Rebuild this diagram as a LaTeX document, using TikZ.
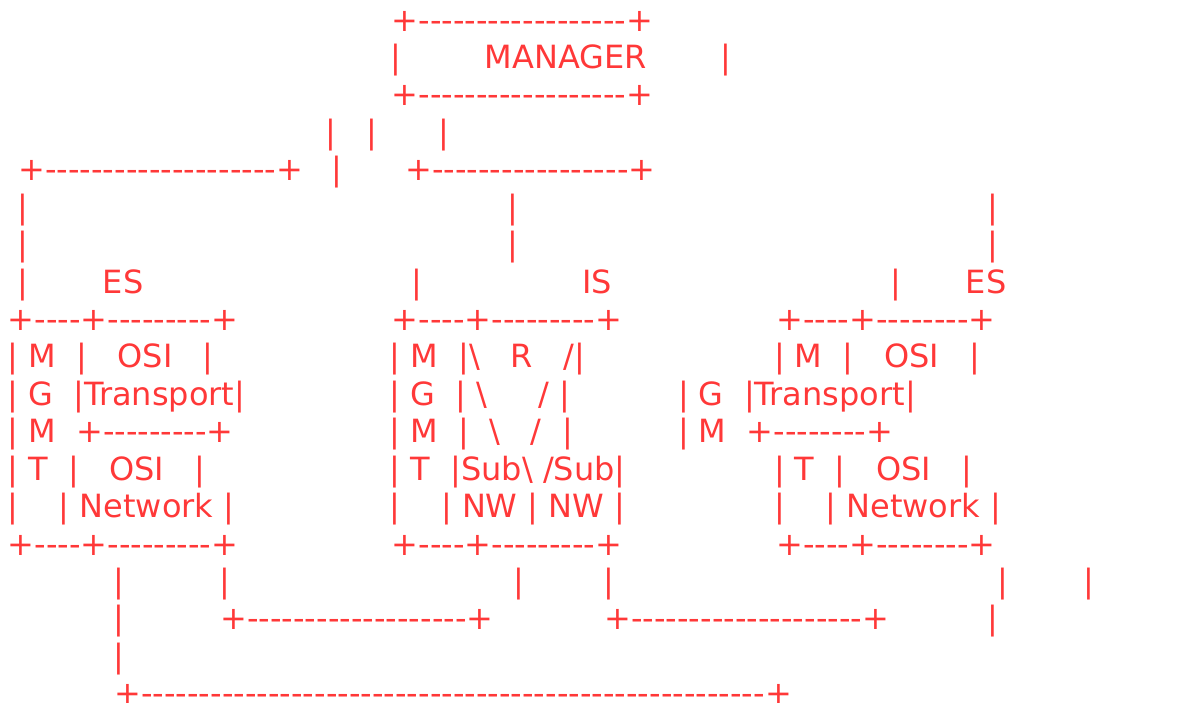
\documentclass[tikz,border=0pt]{standalone}
\usepackage{fontspec}
\newfontfamily\asc{DejaVu Sans}[Ligatures=TeXOff]
\definecolor{ink}{HTML}{FF3838}
\ExplSyntaxOn
\cs_new:Npn \dashrun #1 { \prg_replicate:nn {#1} {-} }
\ExplSyntaxOff
% n word spaces of the current font
\newcommand\sk[1]{\kern#1\fontdimen2\font}
\newcommand\bs{\textbackslash}
\tikzset{
  art/.style={inner sep=0pt, outer sep=0pt, anchor=base west, text=ink,
    font=\asc\fontsize{32}{38}\selectfont}
}
\begin{document}
\begin{tikzpicture}[x=1pt, y=-1pt]
\useasboundingbox (0,0) rectangle (1178,702);

% manager box
\node[art] (r1)  at (391.7, 31)    {+\dashrun{18}+};
\node[art] (r2a) at (390.3, 68.43) {|};
\node[art] (r2b) at (484.9, 68.43) {MANAGER};
\node[art] (r2c) at (720.3, 68.43) {|};
\node[art] (r3)  at (391.7, 105.86) {+\dashrun{18}+};

% links below the manager
\node[art] (r4a) at (325.6, 143.29) {|};
\node[art] (r4b) at (366.9, 143.29) {|};
\node[art] (r4c) at (438.9, 143.29) {|};
\node[art] (r5a) at (18.4, 180.72)  {+\dashrun{20}+};
\node[art] (r5b) at (331.9, 180.72) {|};
\node[art] (r5c) at (405.4, 180.72) {+\dashrun{17}+};

\foreach \yy/\k in {218.15/6, 255.58/7} {
  \node[art] (r\k a) at (17.3, \yy)  {|};
  \node[art] (r\k b) at (507.3, \yy) {|};
  \node[art] (r\k c) at (987.3, \yy) {|};
}

% system labels
\node[art] (r8a) at (17.3, 293.01)  {|};
\node[art] (r8b) at (102.9, 293.01) {ES};
\node[art] (r8c) at (411.3, 293.01) {|};
\node[art] (r8d) at (582.5, 293.01) {IS};
\node[art] (r8e) at (890.6, 293.01) {|};
\node[art] (r8f) at (965.9, 293.01) {ES};

% left end system
\node[art] (l9)  at (7.7, 330.44) {+\dashrun{4}+\dashrun{9}+};
\node[art] (l10) at (7.3, 367.87) {| M\sk{2}|\sk{3}OSI\sk{3}|};
\node[art] (l11) at (7.3, 405.3)  {| G\sk{2}|Transport|};
\node[art] (l12) at (7.3, 442.73) {| M\sk{2}+\dashrun{9}+};
\node[art] (l13) at (7.3, 480.16) {| T\sk{2}|\sk{3}OSI\sk{3}|};
\node[art] (l14) at (7.3, 517.59) {|\sk{4}| Network |};
\node[art] (l15) at (7.7, 555.02) {+\dashrun{4}+\dashrun{9}+};

% intermediate system
\node[art] (m9)  at (391.7, 330.44) {+\dashrun{4}+\dashrun{9}+};
\node[art] (m10) at (389.6, 367.87) {| M\sk{2}|\bs\sk{3}R\sk{3}/|};
\node[art] (m11) at (389.6, 405.3)  {| G\sk{2}| \bs\sk{5}/ |};
\node[art] (m12) at (389.6, 442.73) {| M\sk{2}|\sk{2}\bs\sk{3}/\sk{2}|};
\node[art] (m13) at (389.6, 480.16) {| T\sk{2}|Sub\bs{} /Sub|};
\node[art] (m14) at (389.6, 517.59) {|\sk{4}| NW | NW |};
\node[art] (m15) at (391.7, 555.02) {+\dashrun{4}+\dashrun{9}+};

% right end system
\node[art] (e9)  at (776.5, 330.44) {+\dashrun{4}+\dashrun{8}+};
\node[art] (e10) at (774, 367.87)   {| M\sk{2}|\sk{3}OSI\sk{3}|};
\node[art] (e11) at (678, 405.3)    {| G\sk{2}|Transport|};
\node[art] (e12) at (678, 442.73)   {| M\sk{2}+\dashrun{8}+};
\node[art] (e13) at (774, 480.16)   {| T\sk{2}|\sk{3}OSI\sk{3}|};
\node[art] (e14) at (774, 517.59)   {|\sk{4}| Network |};
\node[art] (e15) at (776.5, 555.02) {+\dashrun{4}+\dashrun{8}+};

% subnetwork links
\node[art] (r16a) at (113.2, 592.45) {|};
\node[art] (r16b) at (219.2, 592.45) {|};
\node[art] (r16c) at (513.6, 592.45) {|};
\node[art] (r16d) at (603.2, 592.45) {|};
\node[art] (r16e) at (997.6, 592.45) {|};
\node[art] (r16f) at (1083, 592.45)  {|};
\node[art] (r17a) at (113.2, 629.88) {|};
\node[art] (r17b) at (220.4, 629.88) {+\dashrun{19}+};
\node[art] (r17c) at (604.4, 629.88) {+\dashrun{20}+};
\node[art] (r17d) at (987.3, 629.88) {|};
\node[art] (r18)  at (113.2, 667.31) {|};
\node[art] (r19)  at (114.4, 704.74) {+\dashrun{54}+};
\end{tikzpicture}
\end{document}
